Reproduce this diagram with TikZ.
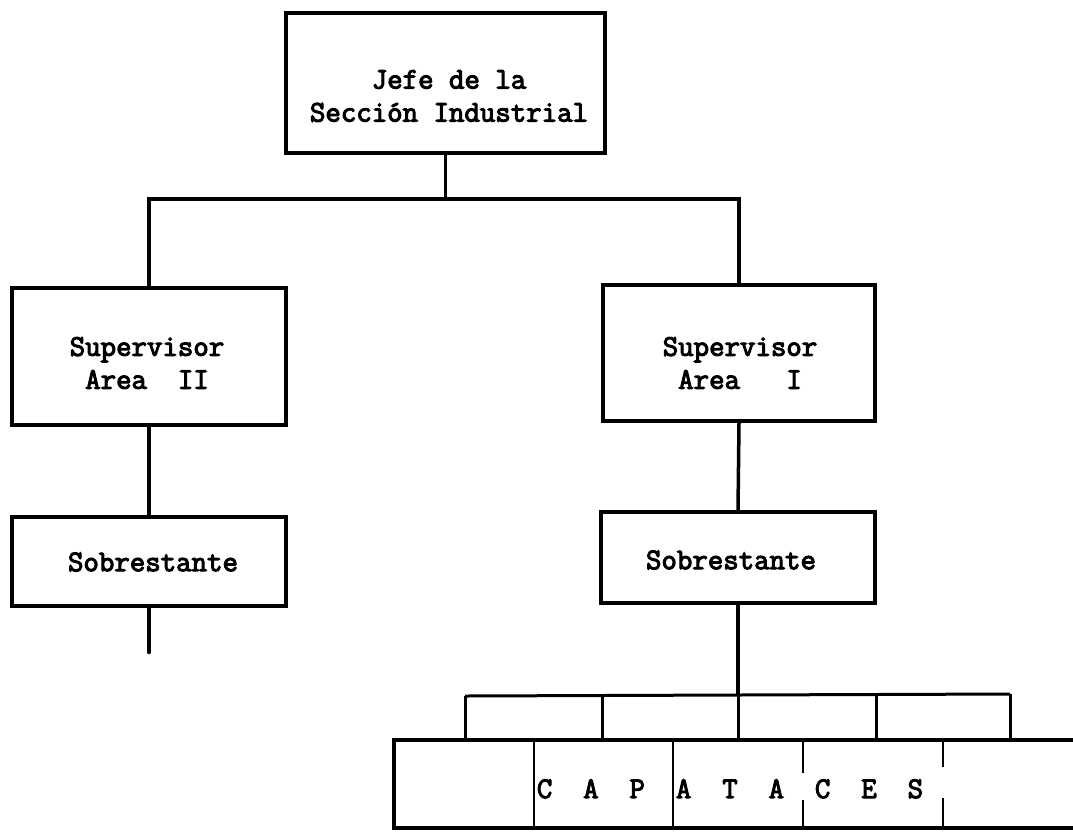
\documentclass[tikz,border=0pt]{standalone}
\usepackage{fontspec}
\newfontfamily\typew{Latin Modern Mono}[FakeBold=3.5]
\begin{document}
\begin{tikzpicture}[x=1pt,y=-1pt,
  box/.style={draw=black, line width=4pt, fill=none, inner sep=0pt},
  label/.style={font=\typew\fontsize{30}{33}\selectfont, align=center, inner sep=0pt, text=black},
  link/.style={draw=black, line width=3.5pt},
  divider/.style={draw=black, line width=2.5pt}]
  \useasboundingbox[fill=white] (0,0) rectangle (1073,831);

  % boxes
  \node[box, minimum width=319pt, minimum height=140pt] (jefe) at (445.5,83) {};
  \node[box, minimum width=274pt, minimum height=137pt] (supII) at (149,356.5) {};
  \node[box, minimum width=272pt, minimum height=136pt] (supI) at (739,353) {};
  \node[box, minimum width=274pt, minimum height=89pt] (sobL) at (149,561.5) {};
  \node[box, minimum width=274pt, minimum height=91pt] (sobR) at (738,557.5) {};
  \node[box, minimum width=700pt, minimum height=88pt] (cap) at (744,784) {};

  % texts
  \node[label] (tjefe) at (449,96) {Jefe de la\\Sección Industrial};
  \node[label] (tsupII) at (147,363) {Supervisor\\Area\ \ II};
  \node[label] (tsupI) at (740,363) {Supervisor\\Area\ \ \ I};
  \node[label] (tsobL) at (153,562) {Sobrestante};
  \node[label] (tsobR) at (731,560) {Sobrestante};
  \node[label, anchor=base] (tcap) at (730,798) {C\ \ A\ \ P\ \ A\ \ T\ \ A\ \ C\ \ E\ \ S};

  % upper connectors
  \coordinate (busL) at (149,199);
  \coordinate (busM) at (445.5,199);
  \coordinate (busR) at (739,199);
  \draw[link] (jefe.south) -- (busM);
  \draw[link] (supII.north) -- (busL) -- (busR) -- (supI.north);
  \draw[link] (supII.south) -- (sobL.north);
  \draw[link] (supI.south) -- (sobR.north);
  \coordinate (stub) at (149,652);
  \draw[link, line width=4.5pt, line cap=round] (sobL.south) -- (stub);

  % lower bus to the foremen
  \coordinate (b1) at (465,696);
  \coordinate (b2) at (602,696);
  \coordinate (b3) at (738,695);
  \coordinate (b4) at (876,694);
  \coordinate (b5) at (1010,694);
  \draw[link] (sobR.south) -- (b3);
  \draw[link, line width=3pt] (b1) -- (b5);
  \foreach \b in {b1,b2,b3,b4,b5}
    \draw[link, line width=3pt] (\b) -- (\b |- cap.north);

  % dividers inside the foremen box
  \draw[divider] (534,740) -- (534,828);
  \draw[divider] (673,740) -- (673,828);
  \draw[divider] (803,740) -- (803,773);
  \draw[divider] (803,800) -- (803,828);
  \draw[divider] (943,740) -- (943,767);
  \draw[divider] (943,798) -- (943,828);
\end{tikzpicture}
\end{document}
